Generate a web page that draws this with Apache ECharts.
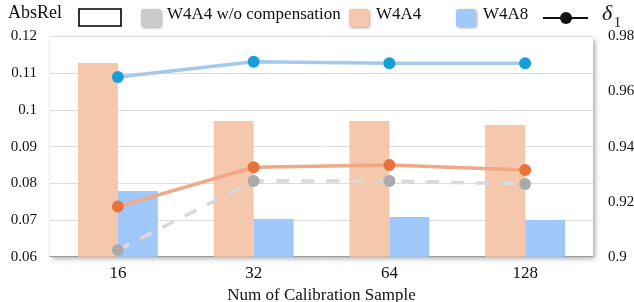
<!DOCTYPE html>
<html>
<head>
<meta charset="utf-8">
<script src="https://cdn.jsdelivr.net/npm/echarts@6/dist/echarts.min.js"></script>
<style>
  html, body { margin: 0; padding: 0; background: #fff; }
  #chart { width: 634px; height: 302px; }
</style>
</head>
<body>
<div id="chart"></div>
<script>
// data
var categories = ['16', '32', '64', '128'];
var absW4A4 = [0.1128, 0.0970, 0.0970, 0.0959];
var absW4A8 = [0.0779, 0.0703, 0.0708, 0.0700];
var d1NoComp = [0.9024, 0.9275, 0.9275, 0.9264];
var d1W4A4 = [0.9182, 0.9325, 0.9333, 0.9315];
var d1W4A8 = [0.9653, 0.9708, 0.9703, 0.9703];

var serif = 'Liberation Serif';
var myChart = echarts.init(document.getElementById('chart'));

function lineSeries(name, data, lineColor, dotColor, dashed) {
    return {
        name: name,
        type: 'line',
        yAxisIndex: 1,
        data: data,
        symbol: 'circle',
        symbolSize: 12,
        itemStyle: { color: dotColor },
        lineStyle: {
            color: lineColor,
            width: 3.5,
            type: dashed ? [13, 12] : 'solid'
        },
        z: 3
    };
}

var legendY = 8;
var option = {
    animation: false,
    textStyle: { fontFamily: serif },
    grid: {
        left: 50,
        right: 41,
        top: 36.5,
        bottom: 45.3,
        outerBoundsMode: 'none',
        containLabel: false,
        show: true,
        backgroundColor: '#fff',
        borderWidth: 0,
        shadowBlur: 5,
        shadowColor: 'rgba(0,0,0,0.35)',
        shadowOffsetX: 2,
        shadowOffsetY: 2
    },
    xAxis: {
        type: 'category',
        data: categories,
        name: 'Num of Calibration Sample',
        nameLocation: 'middle',
        nameGap: 24,
        nameTextStyle: { fontFamily: serif, fontSize: 17, color: '#111' },
        axisLine: { lineStyle: { color: '#999', width: 1 } },
        axisTick: { show: false },
        axisLabel: { fontFamily: serif, fontSize: 17, color: '#111', margin: 8 }
    },
    yAxis: [
        {
            type: 'value',
            min: 0.06,
            max: 0.12,
            interval: 0.01,
            axisLine: { show: false },
            axisTick: { show: false },
            axisLabel: { fontFamily: serif, fontSize: 15, color: '#111', margin: 13 },
            splitLine: { lineStyle: { color: '#dcdcdc', width: 1 } }
        },
        {
            type: 'value',
            min: 0.9,
            max: 0.98,
            interval: 0.02,
            axisLine: { show: false },
            axisTick: { show: false },
            axisLabel: { fontFamily: serif, fontSize: 15, color: '#111', margin: 15 },
            splitLine: { show: false }
        }
    ],
    series: [
        {
            name: 'W4A4',
            type: 'bar',
            data: absW4A4,
            barWidth: 40,
            barGap: '0%',
            itemStyle: { color: '#f5c7ac' }
        },
        {
            name: 'W4A8',
            type: 'bar',
            data: absW4A8,
            barWidth: 40,
            barGap: '0%',
            itemStyle: { color: '#a1c8fa' }
        },
        lineSeries('W4A4 w/o compensation', d1NoComp, '#d9d9d9', '#aaaaaa', true),
        lineSeries('W4A4 δ1', d1W4A4, '#f2a886', '#e8733a', false),
        lineSeries('W4A8 δ1', d1W4A8, '#a4c9ea', '#189fd8', false)
    ],
    graphic: [
        { type: 'text', left: 8, top: 4, style: { text: 'AbsRel', font: '18px "Liberation Serif"', fill: '#111' } },
        { type: 'rect', shape: { x: 79, y: legendY + 1, width: 42, height: 17 },
          style: { fill: '#fff', stroke: '#000', lineWidth: 1.6 } },
        { type: 'rect', shape: { x: 141, y: legendY + 1, width: 20, height: 18, r: 3 },
          style: { fill: '#cbcbcb', shadowBlur: 3, shadowColor: 'rgba(0,0,0,0.35)', shadowOffsetX: 1, shadowOffsetY: 1 } },
        { type: 'text', left: 167, top: 6, style: { text: 'W4A4 w/o compensation', font: '17px "Liberation Serif"', fill: '#111' } },
        { type: 'rect', shape: { x: 349, y: legendY + 1, width: 20, height: 18, r: 3 },
          style: { fill: '#f5c7ac', shadowBlur: 3, shadowColor: 'rgba(0,0,0,0.35)', shadowOffsetX: 1, shadowOffsetY: 1 } },
        { type: 'text', left: 376, top: 6, style: { text: 'W4A4', font: '17px "Liberation Serif"', fill: '#111' } },
        { type: 'rect', shape: { x: 456, y: legendY + 1, width: 20, height: 18, r: 3 },
          style: { fill: '#a1c8fa', shadowBlur: 3, shadowColor: 'rgba(0,0,0,0.35)', shadowOffsetX: 1, shadowOffsetY: 1 } },
        { type: 'text', left: 483, top: 6, style: { text: 'W4A8', font: '17px "Liberation Serif"', fill: '#111' } },
        { type: 'line', shape: { x1: 543, y1: legendY + 10, x2: 588, y2: legendY + 10 },
          style: { stroke: '#111', lineWidth: 2 } },
        { type: 'circle', shape: { cx: 566, cy: legendY + 10, r: 6 }, style: { fill: '#111' } },
        { type: 'text', left: 602, top: 3, style: { text: 'δ', font: 'italic 22px "Liberation Serif"', fill: '#111' } },
        { type: 'text', left: 614, top: 16, style: { text: '1', font: '14px "Liberation Serif"', fill: '#111' } }
    ]
};
myChart.setOption(option);
</script>
</body>
</html>
